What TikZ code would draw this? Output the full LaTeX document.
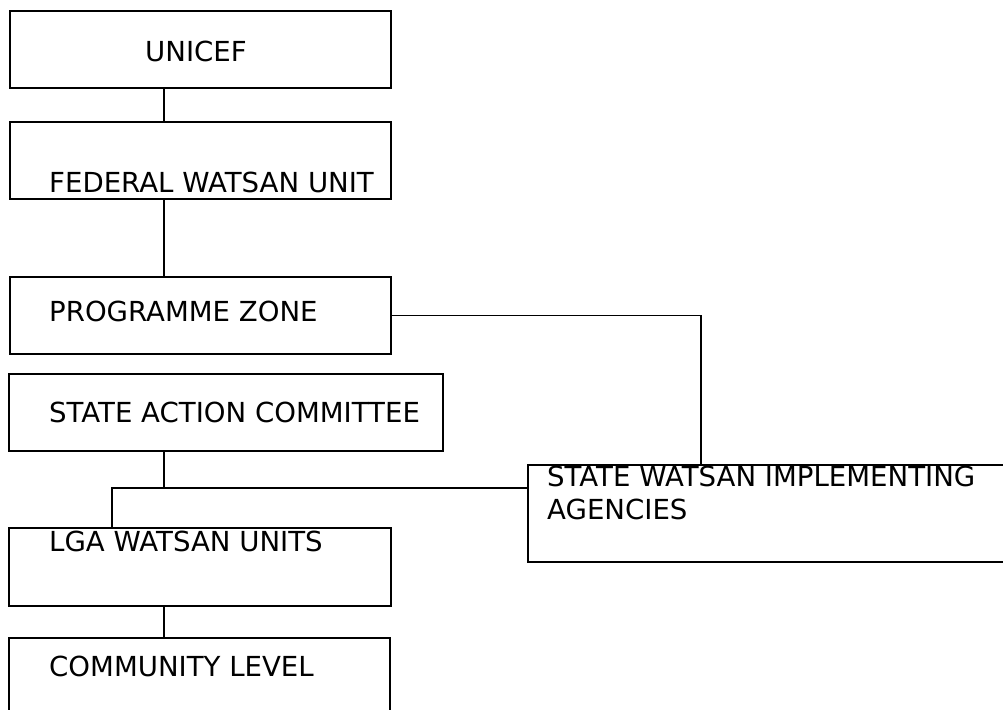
\documentclass[tikz,border=0pt]{standalone}
\usepackage{fontspec}
\setmainfont{DejaVu Sans}
\usepackage{tikz}
\usetikzlibrary{positioning}

\begin{document}
\begin{tikzpicture}[
      x=1pt, y=-1pt,
      box/.style={draw, line width=1.6pt, rectangle, anchor=north west, inner sep=0pt},
      lbl/.style={font=\fontsize{27.6}{33}\selectfont, anchor=base west, inner sep=0pt},
      link/.style={line width=1.5pt}
    ]
    \useasboundingbox (0,0) rectangle (1003,709);
    \clip (0,0) rectangle (1003,709);

    % Caselle
    \node[box, minimum width=381pt, minimum height=77pt] (unicef) at (9,10) {};
    \node[box, minimum width=381pt, minimum height=77pt] (federal) at (9,121) {};
    \node[box, minimum width=381pt, minimum height=77pt] (zone) at (9,276) {};
    \node[box, minimum width=434pt, minimum height=77pt] (sac) at (8,373) {};
    \node[box, minimum width=382pt, minimum height=78pt] (lga) at (8,527) {};
    \node[box, minimum width=381pt, minimum height=90pt] (community) at (8,637) {};
    \node[box, minimum width=490pt, minimum height=97pt] (swia) at (527,464) {};

    % Testi
    \node[lbl] (tunicef) at (145,62) {UNICEF};
    \node[lbl] (tfederal) at (49,192) {FEDERAL WATSAN UNIT};
    \node[lbl] (tzone) at (49,321) {PROGRAMME ZONE};
    \node[lbl] (tsac) at (49,422) {STATE ACTION COMMITTEE};
    \node[lbl] (tlga) at (49,551) {LGA WATSAN UNITS};
    \node[lbl] (tcommunity) at (49,676) {COMMUNITY LEVEL};
    \node[lbl] (tswia1) at (547,486) {STATE WATSAN IMPLEMENTING};
    \node[lbl] (tswia2) at (547,519) {AGENCIES};

    % Collegamenti
    \coordinate (spine) at (164,0);
    \coordinate (drop) at (701,0);
    \coordinate (lgatap) at (112,0);
    \coordinate (junc) at (164,488);
    \draw[link] (unicef.south -| spine) -- (federal.north -| spine);
    \draw[link] (federal.south -| spine) -- (zone.north -| spine);
    \draw[link] (zone.east) -| (drop |- swia.north);
    \draw[link] (sac.south -| spine) -- (junc);
    \draw[link] (lga.north -| lgatap) |- (junc) -- (junc -| swia.west);
    \draw[link] (lga.south -| spine) -- (community.north -| spine);
  \end{tikzpicture}
\end{document}
